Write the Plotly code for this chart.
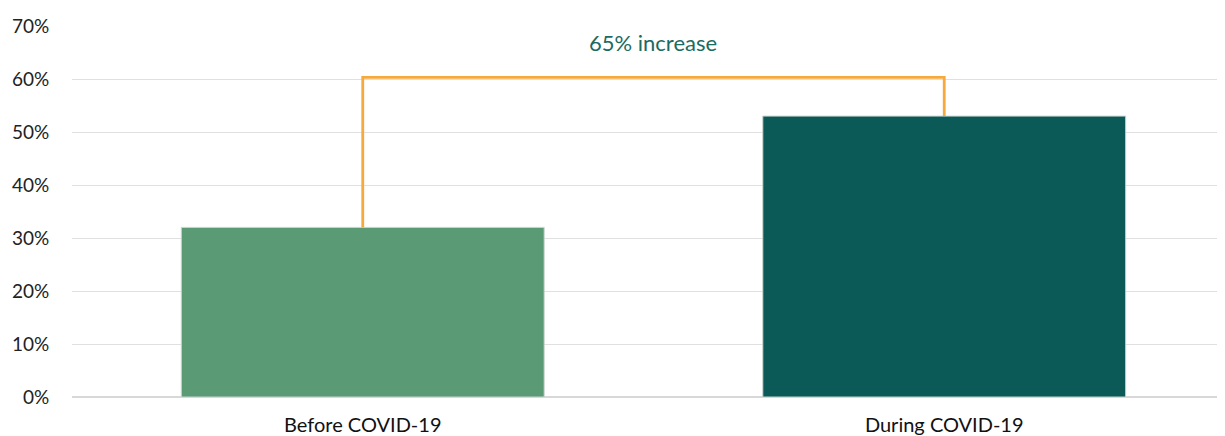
import plotly.graph_objects as go

categories = ["Before COVID-19", "During COVID-19"]
values = [0.32, 0.53]
bar_colors = ["#5a9b75", "#0b5a57"]
bracket_level = 0.603
bracket_label = "65% increase"
y_ticks = [0, 0.1, 0.2, 0.3, 0.4, 0.5, 0.6, 0.7]
y_tick_labels = ["0%", "10%", "20%", "30%", "40%", "50%", "60%", "70%"]

FONT = "Lato, 'Open Sans', sans-serif"

fig = go.Figure()
fig.add_trace(go.Bar(
    x=categories, y=values,
    marker=dict(color=bar_colors, line=dict(color="#c9d3cf", width=1)),
    width=0.624, showlegend=False, hoverinfo="skip",
))
fig.add_trace(go.Scatter(
    x=[categories[0], categories[0], categories[1], categories[1]],
    y=[values[0], bracket_level, bracket_level, values[1]],
    mode="lines", line=dict(color="#f7a93b", width=2.8),
    showlegend=False, hoverinfo="skip", cliponaxis=False,
))
fig.add_annotation(
    x=0.5, y=bracket_level + 0.065, text=bracket_label, showarrow=False,
    font=dict(family=FONT, size=22, color="#1b6b63"),
)

fig.update_layout(
    width=1225, height=436,
    margin=dict(l=64, r=0, t=18, b=47),
    paper_bgcolor="white", plot_bgcolor="white",
    font=dict(family=FONT, size=19, color="#222222"),
    bargap=0.376,
)
fig.update_xaxes(
    type="category", range=[-0.5, 1.4966],
    showgrid=False, showline=False, zeroline=False,
    ticks="outside", ticklen=10, tickcolor="rgba(0,0,0,0)",
    tickfont=dict(family=FONT, size=20, color="#111111"),
)
fig.update_yaxes(
    range=[0, 0.7], tickvals=y_ticks, ticktext=y_tick_labels,
    showgrid=True, gridcolor="#e0e0e0", gridwidth=1.3,
    zeroline=True, zerolinecolor="#d8d8d8", zerolinewidth=1.5,
    showline=False, ticks="outside", ticklen=18, tickcolor="rgba(0,0,0,0)",
    tickfont=dict(family=FONT, size=19, color="#222222"),
)

fig.write_html("out.html")
